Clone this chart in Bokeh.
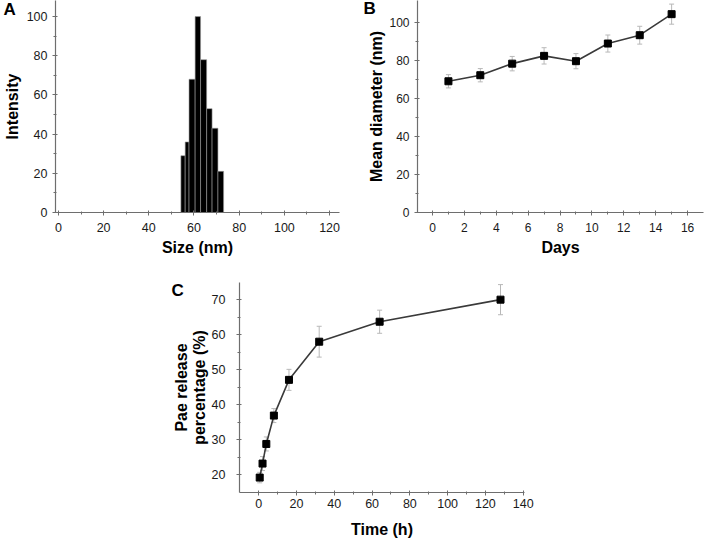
from bokeh.plotting import figure
from bokeh.models import Range1d, Whisker, ColumnDataSource, Label, Spacer, TeeHead
from bokeh.layouts import column, row
from bokeh.embed import file_html
from bokeh.resources import INLINE

# ---- Panel A: size distribution ----
size_bin_edges = [54.2, 56.1, 57.8, 60.5, 62.9, 65.6, 68.0, 70.6, 73.1]
intensity = [29, 36, 68, 100, 78, 53, 43, 21]
a_xticks = [0, 20, 40, 60, 80, 100, 120]
a_yticks = [0, 20, 40, 60, 80, 100]

# ---- Panel B: mean diameter over days ----
days = [1, 3, 5, 7, 9, 11, 13, 15]
mean_diameter = [69.2, 72.4, 78.5, 82.6, 79.8, 89.1, 93.5, 104.6]
diameter_err = [3.5, 3.5, 3.8, 4.3, 4.0, 4.5, 4.7, 5.3]
b_xticks = [0, 2, 4, 6, 8, 10, 12, 14, 16]
b_yticks = [0, 20, 40, 60, 80, 100]

# ---- Panel C: release profile ----
time_h = [0.5, 2, 4, 8, 16, 32, 64, 128]
release_pct = [19.2, 23.2, 28.8, 36.9, 47.1, 58.0, 63.7, 70.0]
release_err = [1.5, 2.0, 2.0, 2.0, 3.0, 4.4, 3.3, 4.3]
c_xticks = [0, 20, 40, 60, 80, 100, 120, 140]
c_yticks = [20, 30, 40, 50, 60, 70]

FONT = "Liberation Sans"
AXIS_COLOR = "#6e6e6e"
TEXT_COLOR = "#1a1a1a"
ERR_COLOR = "#b8b8b8"


def style(p, xticks, yticks, xlabel, ylabel, xstand, xtitle_stand, ystand, ytitle_stand,
          tick_size="12.5px"):
    p.outline_line_color = None
    p.xgrid.grid_line_color = None
    p.ygrid.grid_line_color = None
    p.background_fill_color = "white"
    p.border_fill_color = "white"
    for ax in (p.xaxis[0], p.yaxis[0]):
        ax.axis_line_color = AXIS_COLOR
        ax.axis_line_width = 1.2
        ax.major_tick_line_color = AXIS_COLOR
        ax.minor_tick_line_color = AXIS_COLOR
        ax.major_tick_in = 2
        ax.major_tick_out = 3
        ax.minor_tick_in = 1
        ax.minor_tick_out = 2
        ax.major_label_text_font = FONT
        ax.major_label_text_font_size = tick_size
        ax.major_label_text_color = TEXT_COLOR
        ax.axis_label_text_font = FONT
        ax.axis_label_text_font_size = "16px"
        ax.axis_label_text_font_style = "bold"
        ax.axis_label_text_color = "black"
        ax.axis_label_text_line_height = 1.05
    p.xaxis[0].ticker = xticks
    p.yaxis[0].ticker = yticks
    p.xaxis[0].ticker.minor_ticks = [(a + b) / 2 for a, b in zip(xticks[:-1], xticks[1:])]
    p.yaxis[0].ticker.minor_ticks = [(a + b) / 2 for a, b in zip(yticks[:-1], yticks[1:])]
    p.xaxis[0].axis_label = xlabel
    p.yaxis[0].axis_label = ylabel
    p.xaxis[0].major_label_standoff = xstand
    p.xaxis[0].axis_label_standoff = xtitle_stand
    p.yaxis[0].major_label_standoff = ystand
    p.yaxis[0].axis_label_standoff = ytitle_stand


def panel_label(p, text, sx, sy, side):
    # placed in a side panel (outside the clipped plot frame)
    p.add_layout(Label(x=sx, y=sy, x_units="screen", y_units="screen", text=text,
                       text_font=FONT, text_font_size="17px", text_font_style="bold",
                       text_color="black", text_baseline="top", text_align="left"),
                 side)


def error_bars(p, src):
    p.add_layout(Whisker(source=src, base="x", lower="lo", upper="hi",
                         line_color=ERR_COLOR, line_width=1,
                         upper_head=TeeHead(size=5, line_color=ERR_COLOR, line_width=1),
                         lower_head=TeeHead(size=5, line_color=ERR_COLOR, line_width=1)))


# ---------- Figure A ----------
pA = figure(width=353, height=262, output_backend="svg", toolbar_location=None,
            x_range=Range1d(-1.3, 124.4), y_range=Range1d(0, 108.2),
            min_border_left=51, min_border_right=14, min_border_top=0, min_border_bottom=50)
pA.quad(left=size_bin_edges[:-1], right=size_bin_edges[1:], bottom=0, top=intensity,
        fill_color="black", line_color="#9a9a9a", line_width=0.6)
style(pA, a_xticks, a_yticks, "Size (nm)", "Intensity", 7, 4, 5, 3)
panel_label(pA, "A", -336, 213, "right")

# ---------- Figure B ----------
pB = figure(width=351, height=262, output_backend="svg", toolbar_location=None,
            x_range=Range1d(-0.94, 17.0), y_range=Range1d(0, 111.8),
            min_border_left=64, min_border_right=1, min_border_top=0, min_border_bottom=50)
srcB = ColumnDataSource(dict(x=days, y=mean_diameter,
                             lo=[m - e for m, e in zip(mean_diameter, diameter_err)],
                             hi=[m + e for m, e in zip(mean_diameter, diameter_err)]))
error_bars(pB, srcB)
pB.line("x", "y", source=srcB, line_color="#3a3a3a", line_width=1.6)
pB.scatter("x", "y", source=srcB, marker="square", size=7, fill_color="black", line_color="black")
style(pB, b_xticks, b_yticks, "Days", "Mean diameter (nm)", 7, 4, 5, 1, tick_size="12px")
panel_label(pB, "B", 10, 214, "left")

# ---------- Figure C ----------
pC = figure(width=400, height=278, output_backend="svg", toolbar_location=None,
            x_range=Range1d(-10.2, 140.7), y_range=Range1d(14.94, 74.9),
            min_border_left=79, min_border_right=36, min_border_top=20, min_border_bottom=48)
srcC = ColumnDataSource(dict(x=time_h, y=release_pct,
                             lo=[m - e for m, e in zip(release_pct, release_err)],
                             hi=[m + e for m, e in zip(release_pct, release_err)]))
error_bars(pC, srcC)
pC.line("x", "y", source=srcC, line_color="#3a3a3a", line_width=1.6)
pC.scatter("x", "y", source=srcC, marker="square", size=7, fill_color="black", line_color="black")
style(pC, c_xticks, c_yticks, "Time (h)", "Pae release\npercentage (%)", 3, 10, 11, 1)
panel_label(pC, "C", -353, 212, "right")

layout = column(row(pA, pB), row(Spacer(width=160, height=278), pC))

open("out.html", "w").write(file_html(layout, INLINE))
